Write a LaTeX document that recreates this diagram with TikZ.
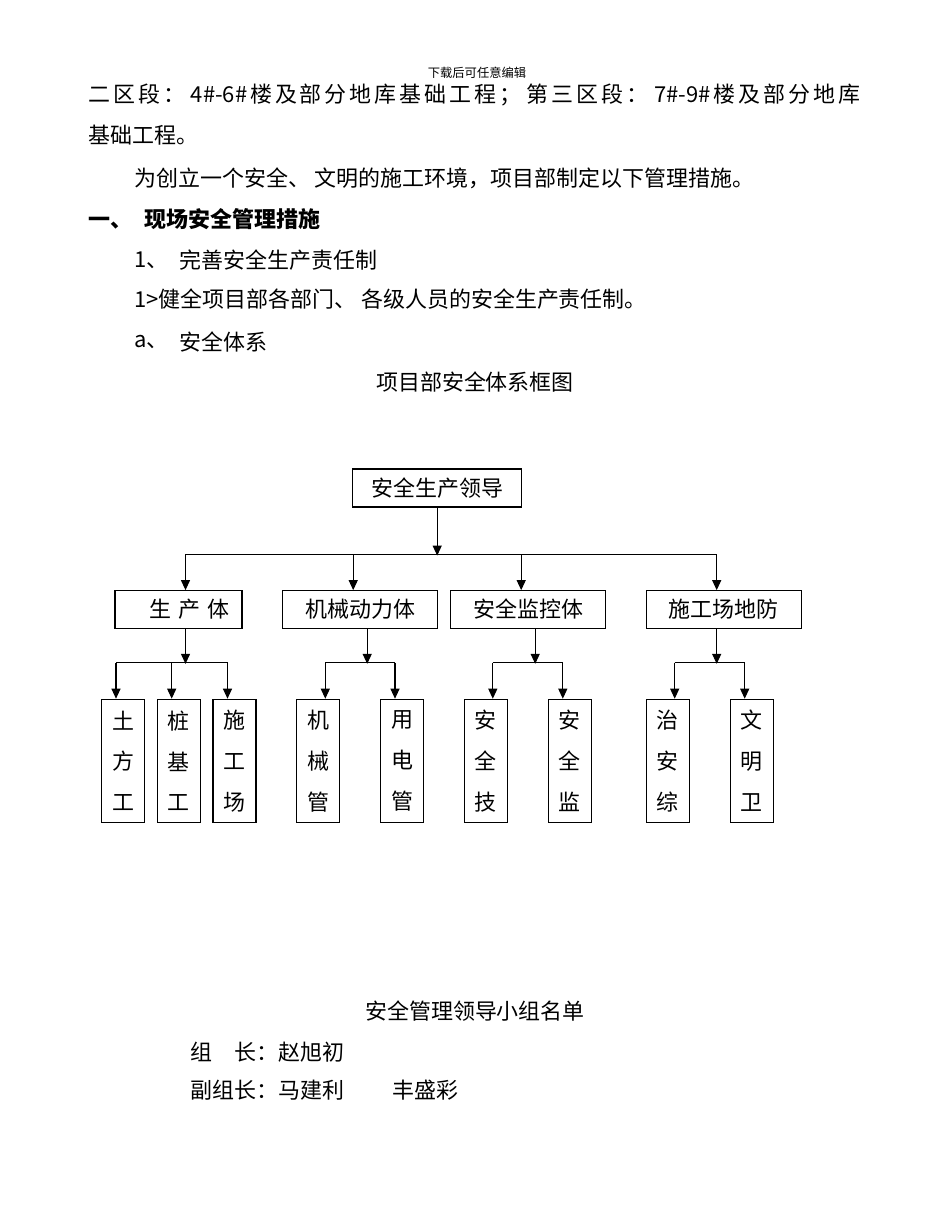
\documentclass[tikz,border=0pt]{standalone}
\usepackage{fontspec}
\setmainfont{Noto Sans CJK SC}
\usetikzlibrary{arrows.meta,positioning,calc}

\begin{document}
\begin{tikzpicture}[
  x=0.02cm, y=-0.02cm,
  txt/.style={anchor=west, inner sep=0pt, font=\fontsize{12.5}{15}\selectfont},
  ctxt/.style={txt, anchor=center},
  box/.style={
    draw, line width=0.7pt, inner sep=0pt, align=center,
    font=\fontsize{12.5}{15}\selectfont
  },
  hbox/.style={box, minimum width=3.1cm, minimum height=0.75cm},
  vbox/.style={
    box, minimum width=0.86cm, minimum height=2.46cm,
    font=\fontsize{12.5}{23.3}\selectfont
  },
  line/.style={line width=0.6pt},
  arr/.style={line, -{Triangle[length=0.2cm, width=0.18cm]}},
]
\useasboundingbox (0,0) rectangle (950,1230);

% text above the chart
\node[ctxt, font=\fontsize{7}{8}\selectfont] (head) at (477,73) {下载后可任意编辑};
\node[txt] (l1) at (88,95) {\makebox[15.44cm][s]{二\hfill 区\hfill 段\hfill ：\hfill\hfill
  4\#-6\#\hfill 楼\hfill 及\hfill 部\hfill 分\hfill 地\hfill 库\hfill 基\hfill 础\hfill
  工\hfill 程\hfill ；\hfill\hfill 第\hfill 三\hfill 区\hfill 段\hfill ：\hfill\hfill
  7\#-9\#\hfill 楼\hfill 及\hfill 部\hfill 分\hfill 地\hfill 库}};
\node[txt] (l2) at (88,135) {基础工程。};
\node[txt] (l3) at (134,178) {为创立一个安全、 文明的施工环境，项目部制定以下管理措施。};
\node[txt, font=\fontsize{12.5}{15}\bfseries] (l4) at (88,219)
  {一、\hspace{0.55em}现场安全管理措施};
\node[txt] (n5) at (134,260) {1、};
\node[txt] (l5) at (179,260) {完善安全生产责任制};
\node[txt] (l6) at (134,299) {1>健全项目部各部门、 各级人员的安全生产责任制。};
\node[txt] (n7) at (134,342) {a、};
\node[txt] (l7) at (179,342) {安全体系};
\node[ctxt] (title) at (475,382) {项目部安全体系框图};

% chart boxes
\node[box, minimum width=3.38cm, minimum height=0.76cm] (lead) at (437.2,488) {安全生产领导};

\node[hbox, minimum width=2.54cm] (sc) at (178.5,609.5)
  {\hspace*{1em}生\hspace{0.3em}产\hspace{0.3em}体};
\node[hbox] (jx) at (360.2,609.5) {机械动力体};
\node[hbox] (aq) at (528.2,609.5) {安全监控体};
\node[hbox] (sg) at (723.7,609.5) {施工场地防};

\node[vbox] (tf)   at (123,760.8)   {土\\方\\工};
\node[vbox] (zj)   at (178.7,760.8) {桩\\基\\工};
\node[vbox] (sgc)  at (234.5,760.8) {施\\工\\场};
\node[vbox] (jxg)  at (318.3,760.8) {机\\械\\管};
\node[vbox] (ydg)  at (402,760.8)   {用\\电\\管};
\node[vbox] (aqj)  at (485.8,760.8) {安\\全\\技};
\node[vbox] (aqjd) at (569.8,760.8) {安\\全\\监};
\node[vbox] (za)   at (667.7,760.8) {治\\安\\综};
\node[vbox] (wm)   at (751.7,760.8) {文\\明\\卫};

% level 1 -> level 2
\coordinate (b0) at ($(lead.south)+(0,48)$);
\draw[arr] (lead.south) -- (b0);
\draw[line] ($(sc.north)+(7,-36)$) -- ($(sg.north)+(-7,-36)$);
\foreach \n/\dx in {sc/7, jx/-7, aq/-7, sg/-7}
  \draw[arr] ($(\n.north)+(\dx,-36)$) -- ($(\n.north)+(\dx,0)$);

% level 2 -> level 3
\foreach \n/\dx in {sc/7, jx/7, aq/7, sg/-7}
  \draw[arr] ($(\n.south)+(\dx,0)$) -- ($(\n.south)+(\dx,35)$);
\draw[line] ($(tf.north)+(-7,-36)$) -- ($(sgc.north)+(-7,-36)$);
\draw[line] ($(jxg.north)+(7,-36)$) -- ($(ydg.north)+(-7,-36)$);
\draw[line] ($(aqj.north)+(7,-36)$) -- ($(aqjd.north)+(-7,-36)$);
\draw[line] ($(za.north)+(7,-36)$) -- ($(wm.north)+(-7,-36)$);
\foreach \n/\dx in {tf/-7, zj/-7, sgc/-7, jxg/7, ydg/-7, aqj/7, aqjd/-7, za/7, wm/-7}
  \draw[arr] ($(\n.north)+(\dx,-36)$) -- ($(\n.north)+(\dx,0)$);

% text below the chart
\node[ctxt] (title2) at (475,1011) {安全管理领导小组名单};
\node[txt] (zz) at (190,1052) {组\hspace{1em}长：赵旭初};
\node[txt] (fz) at (190,1090) {副组长：马建利\hspace{2.2em}丰盛彩};

\end{tikzpicture}
\end{document}
